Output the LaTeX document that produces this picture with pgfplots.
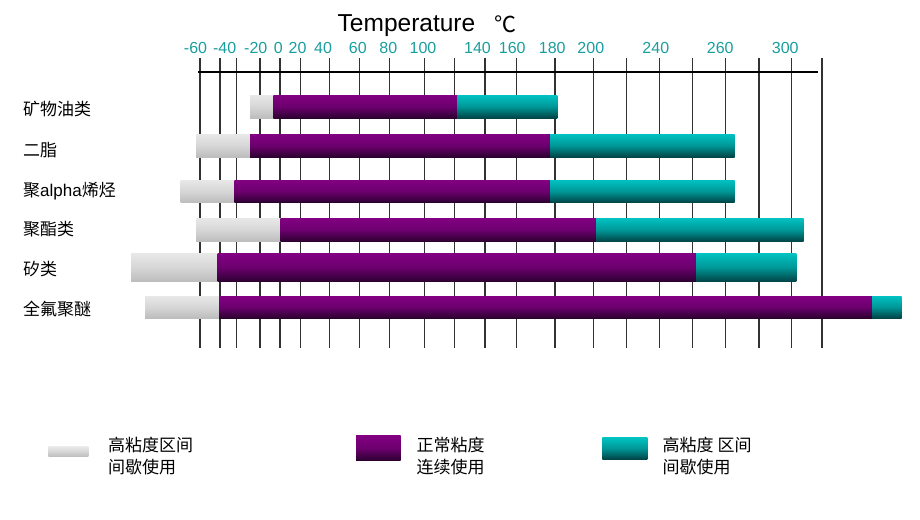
\documentclass[border=0pt]{standalone}
\usepackage{pgfplots}
\pgfplotsset{compat=1.18}
\usepackage{fontspec}
\setmainfont{Liberation Sans}
\newfontfamily\cjk{Noto Sans CJK SC}
\definecolor{ticklab}{RGB}{25,158,158}
\definecolor{grayT}{RGB}{232,232,232}
\definecolor{grayM}{RGB}{214,214,214}
\definecolor{grayB}{RGB}{188,188,188}
\definecolor{purT}{RGB}{130,0,130}
\definecolor{purM}{RGB}{108,0,110}
\definecolor{purB}{RGB}{42,0,46}
\definecolor{tealT}{RGB}{0,194,194}
\definecolor{tealM}{RGB}{0,150,150}
\definecolor{tealB}{RGB}{0,66,68}
\definecolor{gridc}{RGB}{50,50,50}
% one shaded segment: x0, x1, ytop, ybottom, colour stem
\newcommand\seg[5]{\addplot[draw=none, top color=#5T, bottom color=#5B, middle color=#5M, forget plot] coordinates {(#1,#3) (#2,#3) (#2,#4) (#1,#4)} --cycle;}
% one row: ytop, ybottom, start, gray end, purple end, teal end
\newcommand\lube[6]{\seg{#3}{#4}{#1}{#2}{gray}\seg{#4}{#5}{#1}{#2}{pur}\seg{#5}{#6}{#1}{#2}{teal}}
\newcommand\tl[2]{\node[text=ticklab, font=\fontsize{16}{16}\selectfont, anchor=base, inner sep=0pt] at (axis cs:#1,53.3) {#2};}
\newcommand\cat[2]{\node[anchor=base west, inner sep=0pt, font=\fontsize{17}{17}\selectfont] at (axis cs:23,#1) {#2};}
\begin{document}
\begin{tikzpicture}
\begin{axis}[
  width=920pt, height=519pt, scale only axis,
  xmin=0, xmax=920, ymin=0, ymax=519, y dir=reverse,
  axis line style={draw=none}, ticks=none, clip=false,
]
% grid lines
\pgfplotsinvokeforeach{200,220,236.7,260,280,300.3,329.7,359.3,389.2,424.3,454.2,485,516.7,555,593.3,626.7,659.7,692.7,725.7,759,791.7,822}{
  \addplot[gridc, line width=1.1pt, forget plot] coordinates {(#1,58) (#1,348)};
}
\addplot[black, line width=1.2pt, forget plot] coordinates {(198,72) (818,72)};
% bars
\lube{95}{118.3}{250}{273.3}{457.7}{557.3}
\lube{134}{157.3}{196}{250}{550}{734.7}
\lube{180}{202.7}{180.7}{234.3}{550}{734.7}
\lube{218.3}{241.7}{196}{280.7}{596}{803.7}
\lube{253.3}{281.7}{131}{217.7}{696}{796.3}
\lube{296}{318.3}{145}{219}{872}{901.7}
% legend swatches
\seg{48.3}{88.3}{446.7}{456.7}{gray}
\seg{356}{400.7}{435.7}{460.7}{pur}
\seg{602.3}{647.3}{437.7}{459.3}{teal}
% tick labels
\tl{195.5}{-60}
\tl{224.7}{-40}
\tl{255.8}{-20}
\tl{278.3}{0}
\tl{297.5}{20}
\tl{323}{40}
\tl{357.8}{60}
\tl{388.3}{80}
\tl{423}{100}
\tl{477.5}{140}
\tl{512.2}{160}
\tl{552.2}{180}
\tl{590.8}{200}
\tl{655.8}{240}
\tl{720.2}{260}
\tl{785.2}{300}
% title
\node[anchor=base west, inner sep=0pt, font=\fontsize{24.5}{24.5}\selectfont] at (axis cs:337.5,31.7) {Temperature};
\node[anchor=base west, inner sep=0pt, font=\cjk\fontsize{22}{22}\selectfont] at (axis cs:494,33) {℃};
% category labels
\cat{115.6}{{\cjk 矿物油类}}
\cat{156.3}{{\cjk 二脂}}
\cat{196.6}{{\cjk 聚}alpha{\cjk 烯烃}}
\cat{235.6}{{\cjk 聚酯类}}
\cat{275.6}{{\cjk 矽类}}
\cat{315.6}{{\cjk 全氟聚醚}}
% legend texts
\node[anchor=base west, inner sep=0pt, font=\cjk\fontsize{17}{17}\selectfont] at (axis cs:108,451.5) {高粘度区间};
\node[anchor=base west, inner sep=0pt, font=\cjk\fontsize{17}{17}\selectfont] at (axis cs:108,473) {间歇使用};
\node[anchor=base west, inner sep=0pt, font=\cjk\fontsize{17}{17}\selectfont] at (axis cs:416.5,451.5) {正常粘度};
\node[anchor=base west, inner sep=0pt, font=\cjk\fontsize{17}{17}\selectfont] at (axis cs:416.5,473) {连续使用};
\node[anchor=base west, inner sep=0pt, font=\cjk\fontsize{17}{17}\selectfont] at (axis cs:662.5,451.5) {高粘度 区间};
\node[anchor=base west, inner sep=0pt, font=\cjk\fontsize{17}{17}\selectfont] at (axis cs:662.5,473) {间歇使用};
\end{axis}
\end{tikzpicture}
\end{document}
